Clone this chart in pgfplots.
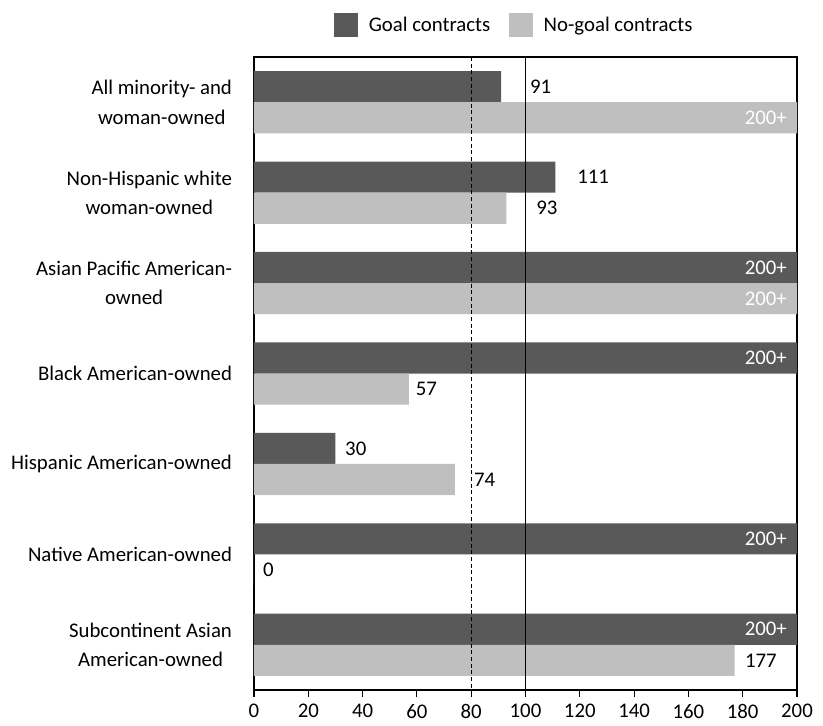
\documentclass[border=0pt]{standalone}
\usepackage{fontspec}
\setmainfont{Carlito}
\usepackage{pgfplots}
\pgfplotsset{compat=1.18}
\usepackage{pgfplotstable}
\definecolor{goalc}{RGB}{89,89,89}
\definecolor{nogoalc}{RGB}{191,191,191}
\newcommand\cf{\fontsize{15.6}{22}\selectfont}

% category index, value
\pgfplotstableread{
y v
0 91
1 111
2 200
3 200
4 30
5 200
6 200
}\goal
\pgfplotstableread{
y v
0 200
1 93
2 200
3 57
4 74
5 0
6 177
}\nogoal
% outside labels: label x position, y position, text
\pgfplotstableread{
lx y lab
101.6 -0.172 91
119.0 0.828 111
33.5 3.828 30
}\goalout
\pgfplotstableread{
lx y lab
103.9 1.172 93
59.5 3.172 57
81.0 4.172 74
3.3 5.172 0
180.8 6.172 177
}\nogoalout
% inside labels at the end of the clipped bars
\pgfplotstableread{
lx y lab
200 1.828 200+
200 2.828 200+
200 4.828 200+
200 5.828 200+
}\goalin
\pgfplotstableread{
lx y lab
200 0.172 200+
200 2.172 200+
}\nogoalin

\pgfplotsset{
 sqlegend/.style={legend image code/.code={\fill[##1,draw=none] (0pt,-9pt) rectangle (18pt,9pt);}},
}

\begin{document}
\begin{tikzpicture}[font=\cf]
\begin{axis}[
 scale only axis, width=407.25pt, height=474.75pt,
 xmin=0, xmax=200, ymin=-0.5, ymax=6.5, y dir=reverse,
 xtick={0,20,...,200}, ytick={0,...,6},
 yticklabels={{All minority- and\\woman-owned},{Non-Hispanic white\\woman-owned},{Asian Pacific American-\\owned},{Black American-owned},{Hispanic American-owned},{Native American-owned},{Subcontinent Asian\\American-owned}},
 xtick pos=left, tick align=outside, major tick length=5pt,
 ytick style={draw=none},
 xtick style={black, line width=0.8pt},
 axis line style={black, line width=0.8pt},
 tick label style={font=\cf, black},
 /pgf/number format/assume math mode=true,
 yticklabel style={align=center, xshift=-8pt},
 xticklabel style={yshift=-2pt},
 legend style={at={(rel axis cs:0.48,1)}, anchor=south, yshift=12.5pt, draw=none, legend columns=2, font=\cf,
   /tikz/every odd column/.append style={column sep=6pt},
   /tikz/every even column/.append style={column sep=12pt}},
 legend cell align=left,
 legend entries={Goal contracts, No-goal contracts},
]
\addplot[xbar, bar width=0.344, bar shift=-0.172, fill=goalc, draw=none, sqlegend] table[x=v, y=y] {\goal};
\addplot[xbar, bar width=0.344, bar shift=0.172, fill=nogoalc, draw=none, sqlegend] table[x=v, y=y] {\nogoal};
\addplot[forget plot, black, line width=0.8pt, dash pattern=on 3pt off 2pt] coordinates {(80,-0.5) (80,6.5)};
\addplot[forget plot, black, line width=0.8pt] coordinates {(100,-0.5) (100,6.5)};
\addplot[forget plot, draw=none, mark=none, nodes near coords, point meta=explicit symbolic,
  nodes near coords style={anchor=west, inner sep=0pt, font=\cf, black}] table[x=lx, y=y, meta=lab] {\goalout};
\addplot[forget plot, draw=none, mark=none, nodes near coords, point meta=explicit symbolic,
  nodes near coords style={anchor=west, inner sep=0pt, font=\cf, black}] table[x=lx, y=y, meta=lab] {\nogoalout};
\addplot[forget plot, draw=none, mark=none, nodes near coords, point meta=explicit symbolic,
  nodes near coords style={anchor=east, inner sep=0pt, xshift=-7.5pt, font=\cf, white}] table[x=lx, y=y, meta=lab] {\goalin};
\addplot[forget plot, draw=none, mark=none, nodes near coords, point meta=explicit symbolic,
  nodes near coords style={anchor=east, inner sep=0pt, xshift=-7.5pt, font=\cf, white}] table[x=lx, y=y, meta=lab] {\nogoalin};
\end{axis}
\pgfresetboundingbox
\path (current axis.south west) ++(-190.5pt,-26.25pt) coordinate (bl);
\useasboundingbox (bl) rectangle ++(617.25pt,543.75pt);
\end{tikzpicture}
\end{document}
